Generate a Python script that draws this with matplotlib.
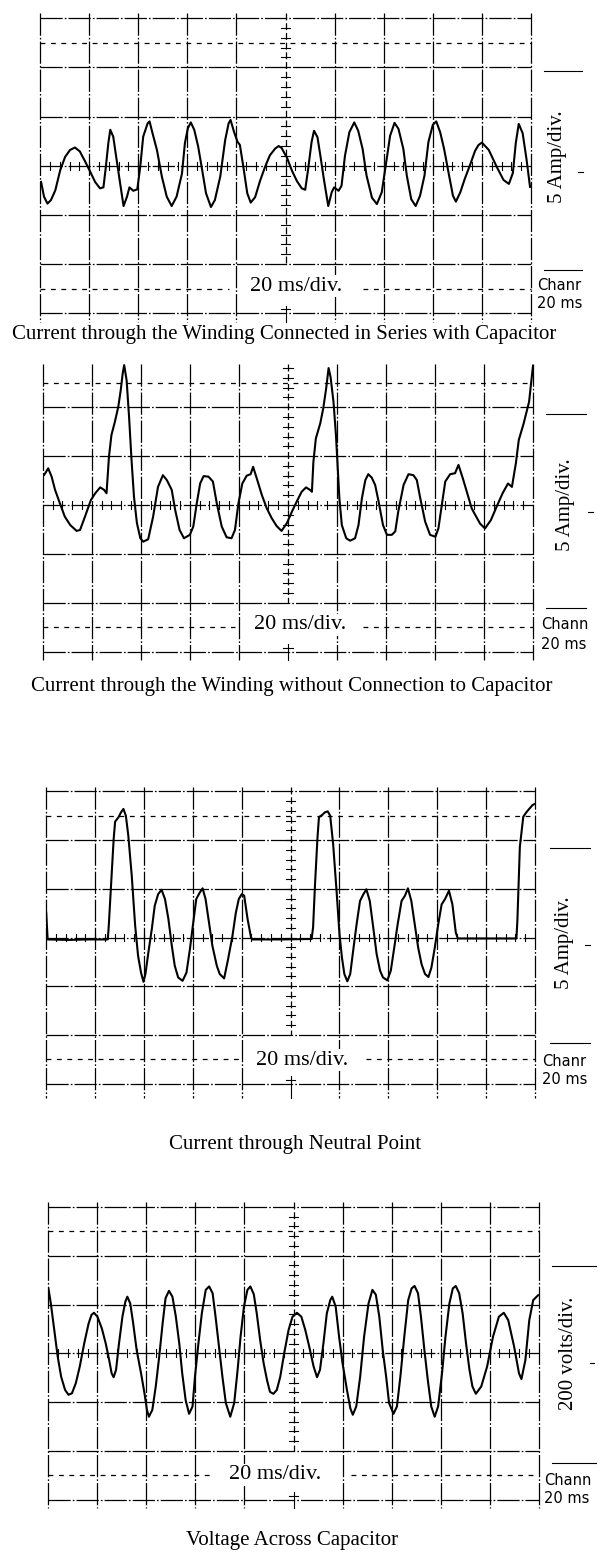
import numpy as np
import matplotlib
matplotlib.use('Agg')
import matplotlib.pyplot as plt

t1 = [0.4, 1.6, 3.0, 4.4, 6.2, 8.2, 10.2, 12.2, 14.2, 16.2,
      18.4, 20.4, 22.4, 24.4, 25.8, 26.8, 27.8, 28.6, 29.8, 31.0,
      32.4, 34.0, 35.4, 36.4, 38.0, 39.6, 40.8, 42.0, 43.8, 44.6,
      45.8, 47.6, 49.6, 51.6, 53.6, 55.6, 57.8, 59.0, 60.2, 61.4,
      62.8, 64.4, 65.8, 67.6, 69.6, 71.2, 73.4, 75.4, 76.8, 77.6,
      79.0, 80.4, 81.4, 82.8, 84.4, 85.8, 87.6, 89.6, 91.6, 93.6,
      95.8, 97.2, 98.4, 100.6, 102.6, 104.6, 106.6, 108.0, 109.2, 110.6,
      111.6, 113.0, 114.2, 115.6, 117.4, 118.8, 119.8, 121.6, 122.8, 124.2,
      126.0, 128.0, 129.6, 131.4, 133.0, 135.2, 137.2, 139.2, 140.8, 142.6,
      144.4, 146.0, 148.0, 149.4, 151.2, 153.0, 154.8, 156.6, 158.2, 160.0,
      161.4, 163.0, 164.6, 166.4, 168.2, 169.4, 171.2, 173.0, 175.2, 177.2,
      178.6, 180.0, 182.8, 186.0, 188.8, 191.0, 192.6, 193.8, 195.0, 196.6,
      198.2, 199.6]
i1 = [-1.65, -3.15, -3.85, -3.5, -2.5, -0.45, 0.9, 1.6, 1.85, 1.45,
      0.4, -0.6, -1.65, -2.3, -2.2, -0.1, 2.3, 3.65, 2.95, 0.9,
      -1.45, -4.1, -3.15, -2.2, -2.55, -2.4, -0.1, 2.95, 4.3, 4.5,
      3.3, 1.6, -1.1, -3.15, -4.1, -3.15, -0.8, 2.3, 3.8, 4.4,
      3.65, 1.95, -0.1, -2.8, -4.2, -3.5, -1.1, 2.6, 4.3, 4.65,
      3.45, 2.45, 2.1, -0.1, -2.8, -3.75, -3.2, -1.55, -0.15, 1.05,
      1.75, 2.0, 1.8, 0.8, -0.5, -1.55, -2.3, -2.45, -0.35, 2.4,
      3.55, 2.9, 1.0, -1.35, -4.1, -2.7, -2.2, -2.55, -2.05, 1.0,
      3.4, 4.4, 3.55, 1.7, -1.0, -3.25, -3.9, -2.7, 0.0, 3.05,
      4.35, 3.75, 1.7, -1.0, -3.4, -4.1, -3.05, -1.0, 2.4, 4.15,
      4.5, 3.4, 1.7, -0.7, -3.05, -3.65, -2.7, -1.35, 0.1, 1.5,
      2.1, 2.35, 1.6, -0.1, -1.45, -1.85, -0.75, 2.3, 4.25, 3.3,
      0.6, -2.15]

t2 = [0.0, 1.0, 2.2, 3.6, 5.0, 7.0, 9.0, 11.2, 13.8, 15.2,
      17.2, 19.6, 21.4, 23.4, 25.0, 26.0, 27.0, 28.0, 29.4, 30.8,
      31.8, 32.6, 33.2, 34.2, 35.2, 36.2, 37.2, 38.4, 39.8, 41.0,
      43.0, 45.0, 47.0, 49.0, 50.6, 52.6, 54.0, 55.8, 57.6, 60.0,
      61.4, 62.8, 64.2, 65.6, 67.6, 69.4, 71.0, 73.0, 75.0, 77.0,
      78.4, 79.8, 81.4, 83.2, 84.8, 85.8, 87.2, 89.4, 91.4, 93.4,
      95.4, 97.4, 99.6, 101.6, 103.6, 105.6, 107.4, 109.0, 109.8, 110.4,
      111.4, 113.2, 114.4, 115.6, 116.6, 117.4, 118.6, 119.6, 120.2, 121.0,
      122.0, 123.8, 125.4, 127.4, 128.8, 130.2, 131.6, 132.8, 134.2, 135.6,
      137.0, 138.8, 140.4, 142.4, 143.8, 145.0, 147.2, 149.2, 151.2, 152.6,
      154.0, 156.0, 158.0, 160.2, 161.4, 162.8, 164.2, 166.2, 168.2, 169.6,
      171.4, 173.0, 175.0, 176.4, 178.4, 180.4, 182.8, 185.2, 187.6, 189.8,
      191.4, 193.0, 194.2, 196.2, 198.4, 200.0]
i2 = [2.9, 3.25, 3.75, 2.9, 1.55, 0.15, -1.2, -2.05, -2.65, -2.55,
      -1.2, 0.5, 1.2, 1.8, 1.55, 1.2, 4.95, 7.15, 8.5, 10.05,
      11.75, 13.45, 14.3, 12.75, 9.0, 4.6, 0.85, -1.85, -3.4, -3.75,
      -3.5, -1.2, 1.85, 3.05, 2.55, 1.55, -0.5, -2.55, -3.4, -3.05,
      -2.2, 0.15, 2.2, 2.95, 2.9, 2.4, 0.15, -2.2, -3.3, -3.4,
      -2.55, 0.15, 2.2, 3.0, 3.15, 3.9, 2.8, 1.0, -0.35, -1.35,
      -2.15, -2.65, -1.85, -0.7, 0.35, 1.35, 1.8, 1.55, 1.35, 4.4,
      6.8, 8.35, 9.85, 11.9, 14.0, 13.1, 10.55, 7.15, 4.4, 0.7,
      -2.05, -3.4, -3.65, -3.4, -2.05, 0.7, 2.55, 3.15, 2.8, 2.05,
      0.35, -2.05, -3.05, -3.05, -2.7, -0.7, 2.05, 3.15, 3.05, 2.55,
      0.7, -1.7, -3.05, -3.25, -2.4, 0.0, 2.4, 3.15, 3.25, 4.1,
      2.7, 1.35, -0.35, -1.0, -1.9, -2.4, -1.55, -0.15, 1.2, 2.2,
      1.85, 4.25, 6.65, 8.35, 10.55, 14.25]

t3 = [0.0, 0.6, 9.0, 17.2, 25.2, 25.6, 26.6, 27.6, 28.2, 29.6,
      30.6, 31.6, 32.6, 33.6, 35.0, 36.4, 37.6, 38.8, 39.8, 40.6,
      41.8, 43.2, 44.4, 45.8, 47.2, 48.6, 50.0, 51.4, 52.6, 54.0,
      55.8, 57.4, 58.8, 60.0, 61.4, 62.8, 64.0, 65.2, 66.6, 68.0,
      69.8, 71.0, 72.8, 74.4, 76.2, 77.6, 78.8, 80.0, 81.0, 82.4,
      83.8, 84.4, 96.0, 108.6, 109.2, 110.0, 111.0, 111.6, 113.0, 114.0,
      115.2, 116.2, 117.4, 118.8, 120.0, 121.0, 122.0, 123.2, 124.4, 125.6,
      127.0, 128.4, 129.8, 131.0, 132.4, 133.8, 135.2, 136.6, 137.8, 139.6,
      141.0, 142.4, 143.8, 145.4, 146.8, 148.0, 149.4, 150.8, 152.2, 153.6,
      155.0, 156.4, 157.6, 159.0, 160.4, 161.8, 163.2, 164.8, 166.2, 167.6,
      168.4, 180.0, 192.4, 192.8, 193.8, 195.2, 196.6, 199.0, 199.8]
i3 = [2.55, -0.2, -0.25, -0.2, -0.2, 1.2, 5.65, 10.1, 11.9, 12.35,
      12.85, 13.2, 12.5, 10.45, 6.35, 1.2, -1.9, -3.6, -4.55, -3.75,
      -1.55, 0.85, 3.25, 4.45, 4.9, 3.95, 1.9, -0.85, -2.9, -4.1,
      -4.45, -3.6, -1.2, 1.2, 3.95, 4.6, 5.05, 3.95, 1.55, -0.85,
      -2.9, -3.75, -4.2, -2.25, 0.15, 2.55, 3.95, 4.45, 4.3, 1.9,
      0.0, -0.2, -0.2, -0.15, 1.05, 5.5, 10.25, 12.35, 12.6, 12.85,
      12.95, 12.5, 9.6, 4.8, 0.35, -2.05, -3.75, -4.5, -3.75, -1.35,
      1.35, 3.75, 4.45, 4.95, 3.75, 1.05, -1.7, -3.4, -4.1, -4.4,
      -3.4, -1.05, 1.35, 3.75, 4.3, 5.05, 3.75, 1.35, -1.05, -2.75,
      -3.75, -4.05, -3.1, -1.05, 1.35, 3.4, 3.95, 4.8, 3.4, 0.5,
      -0.1, -0.1, -0.1, 1.8, 9.3, 12.4, 12.9, 13.6, 13.7]

# Tensão no capacitor em V (200 V/div)
t4 = [0.0, 1.0, 2.4, 3.8, 5.2, 6.8, 8.2, 9.6, 11.2, 12.8,
      14.6, 16.4, 17.6, 18.6, 20.0, 21.8, 23.4, 24.8, 25.8, 26.6,
      27.6, 28.8, 30.2, 31.4, 32.2, 33.4, 34.6, 36.0, 37.8, 39.2,
      40.2, 41.0, 42.4, 43.8, 45.2, 46.6, 47.8, 49.2, 50.6, 52.0,
      53.4, 54.6, 56.0, 57.4, 58.8, 59.8, 61.2, 62.6, 64.2, 65.6,
      67.0, 68.2, 69.6, 71.0, 72.4, 74.2, 75.8, 77.2, 78.4, 79.8,
      81.2, 82.4, 83.8, 85.0, 86.4, 87.8, 89.2, 90.4, 91.8, 93.2,
      94.6, 96.2, 98.0, 99.6, 101.4, 103.2, 104.8, 106.4, 108.2, 109.6,
      110.8, 112.2, 113.6, 115.0, 115.8, 117.2, 118.6, 120.0, 121.8, 123.2,
      124.2, 125.6, 127.2, 128.8, 130.6, 132.2, 133.6, 135.0, 136.4, 137.8,
      139.0, 140.8, 142.2, 143.6, 145.2, 146.8, 148.2, 149.4, 150.8, 152.0,
      153.4, 154.8, 156.2, 157.6, 159.0, 160.6, 162.0, 163.6, 165.0, 166.2,
      167.6, 169.0, 170.4, 171.8, 173.0, 174.4, 176.6, 179.0, 181.4, 183.8,
      185.8, 187.6, 190.0, 192.0, 193.0, 194.6, 196.2, 197.8, 199.8]
v4 = [266, 204, 96, -14, -96, -150, -170, -164, -122, -54,
      40, 122, 158, 166, 150, 102, 40, -28, -82, -98,
      -68, 40, 150, 212, 232, 204, 122, 14, -82, -164,
      -232, -260, -232, -136, -14, 122, 226, 256, 232, 150,
      40, -82, -192, -248, -218, -96, 40, 164, 260, 274,
      246, 150, 28, -96, -204, -260, -204, -68, 68, 192,
      260, 274, 242, 164, 54, -40, -110, -158, -166, -150,
      -96, 0, 96, 150, 166, 150, 96, 28, -54, -98,
      -68, 40, 164, 218, 232, 192, 68, -40, -150, -226,
      -252, -218, -96, 68, 204, 260, 240, 150, 14, -96,
      -204, -248, -218, -96, 68, 218, 266, 276, 246, 150,
      14, -110, -218, -260, -218, -82, 68, 204, 266, 276,
      246, 164, 40, -68, -136, -166, -136, -54, 68, 150,
      166, 136, 28, -82, -106, -28, 136, 218, 238]

legendas = ['Current through the Winding Connected in Series with Capacitor',
            'Current through the Winding without Connection to Capacitor',
            'Current through Neutral Point',
            'Voltage Across Capacitor']
escalas = ['5 Amp/div.', '5 Amp/div.', '5 Amp/div.', '200 volts/div.']
canal = ['Chanr', 'Chann', 'Chanr', 'Chann']
unidade = [5, 5, 5, 200]

# Geometria de cada tela (pixels da imagem e posições em divisões)
telas = [
    dict(left=40.1, right=531.0, cy=165.7, dy=49.2, vtop=3.11, vbot=-3.18, top=True,
         dl=3.85, dr=6.58, tx=5.21, ty=-2.45, lx=10.54, ly=0.18, m1=1.92, m2=-2.11,
         mx=(10.26, 11.04), dash=(11.01, -0.12), cx=10.12, c1=-2.43, c2=-2.81,
         cap=(284.6, 335)),
    dict(left=42.8, right=533.0, cy=505.0, dy=48.9, vtop=2.89, vbot=-3.16, top=False,
         dl=3.92, dr=6.53, tx=5.25, ty=-2.45, lx=10.66, ly=0.0, m1=1.87, m2=-2.11,
         mx=(10.27, 11.09), dash=(11.17, -0.14), cx=10.16, c1=-2.45, c2=-2.86,
         cap=(292, 687)),
    dict(left=46.2, right=535.0, cy=937.5, dy=48.7, vtop=3.10, vbot=-3.30, top=True,
         dl=4.01, dr=6.55, tx=5.23, ty=-2.52, lx=10.61, ly=-0.11, m1=1.83, m2=-2.17,
         mx=(10.30, 11.12), dash=(11.08, -0.15), cx=10.15, c1=-2.54, c2=-2.92,
         cap=(295, 1145)),
    dict(left=48.4, right=538.6, cy=1353.3, dy=48.8, vtop=3.10, vbot=-3.18, top=True,
         dl=3.38, dr=6.18, tx=4.63, ty=-2.49, lx=10.62, ly=0.0, m1=1.79, m2=-2.24,
         mx=(10.28, 11.17), dash=(11.09, -0.20), cx=10.11, c1=-2.60, c2=-2.97,
         cap=(292, 1540)),
]
series = [(t1, i1), (t2, i2), (t3, i3), (t4, v4)]

plt.rcParams['lines.scale_dashes'] = False
serif = ['Liberation Serif', 'DejaVu Serif']

W, H = 599, 1552
fig = plt.figure(figsize=(W / 100, H / 100), dpi=100)

cheia = dict(color='black', lw=0.9, ls=(0, (16, 1.5, 1.2, 1.5)), clip_on=False)
tracejada = dict(color='black', lw=0.9, ls=(0, (3.5, 4)), clip_on=False)
fina = dict(color='black', lw=0.8, clip_on=False)

for n, p in enumerate(telas):
    ax = fig.add_axes([p['left'] / W, 1 - (p['cy'] + 3 * p['dy']) / H,
                       (p['right'] - p['left']) / W, 6 * p['dy'] / H])
    ax.set_xlim(0, 200)
    ax.set_ylim(-3 * unidade[n], 3 * unidade[n])
    ax.axis('off')

    gx = lambda d: np.asarray(d, dtype=float) * 20
    gy = lambda d, u=unidade[n]: np.asarray(d, dtype=float) * u

    # Grade
    for k in range(11):
        if k != 5:
            ax.plot(gx([k, k]), gy([p['vtop'], p['vbot']]), **cheia)
    niveis = [-3, -2, -1, 1, 2] + ([3] if p['top'] else [])
    for lev in niveis:
        ax.plot(gx([0, 10]), gy([lev, lev]), **cheia)
    ax.plot(gx([0, 10]), gy([2.5, 2.5]), **tracejada)
    ax.plot(gx([0, p['dl']]), gy([-2.5, -2.5]), **tracejada)
    ax.plot(gx([p['dr'], 10]), gy([-2.5, -2.5]), **tracejada)

    # Eixos centrais com marcas
    ax.plot(gx([0, 10]), gy([0, 0]), **cheia)
    ax.plot(gx([5, 5]), gy([p['vtop'], -2.0]), color='black', lw=0.9,
            ls=(0, (5, 2)), clip_on=False)
    ax.plot(gx([5, 5]), gy([-2.85, p['vbot']]), **fina)
    ax.plot(gx([4.9, 5.1]), gy([-2.92, -2.92]), **fina)
    for d in np.arange(0.2, 10, 0.2):
        ax.plot(gx([d, d]), gy([-0.08, 0.08]), **fina)
    for d in np.arange(-1.8, 2.81, 0.2):
        ax.plot(gx([4.9, 5.1]), gy([d, d]), **fina)

    # Curva medida
    t, v = series[n]
    ax.plot(t, v, color='black', lw=1.5, solid_joinstyle='round')

    # Textos e marcas laterais
    ax.text(gx(p['tx']), gy(p['ty']), '20 ms/div.', ha='center', va='center',
            family=serif, size=16, bbox=dict(fc='white', ec='none', pad=1))
    ax.text(gx(p['lx']), gy(p['ly']), escalas[n], rotation=90, ha='center',
            va='center', family=serif, size=15)
    ax.plot(gx(p['mx']), gy([p['m1'], p['m1']]), **fina)
    ax.plot(gx(p['mx']), gy([p['m2'], p['m2']]), **fina)
    ax.plot(gx([p['dash'][0] - 0.05, p['dash'][0] + 0.05]),
            gy([p['dash'][1], p['dash'][1]]), **fina)
    ax.text(gx(p['cx']), gy(p['c1']), canal[n], ha='left', va='center',
            family='DejaVu Sans', size=10.5)
    ax.text(gx(p['cx']), gy(p['c2']), '20 ms', ha='left', va='center',
            family='DejaVu Sans', size=10.5)

    fig.text(p['cap'][0] / W, 1 - p['cap'][1] / H, legendas[n], ha='center',
             va='center', family=serif, size=15)

plt.savefig('out.png', dpi=100)
